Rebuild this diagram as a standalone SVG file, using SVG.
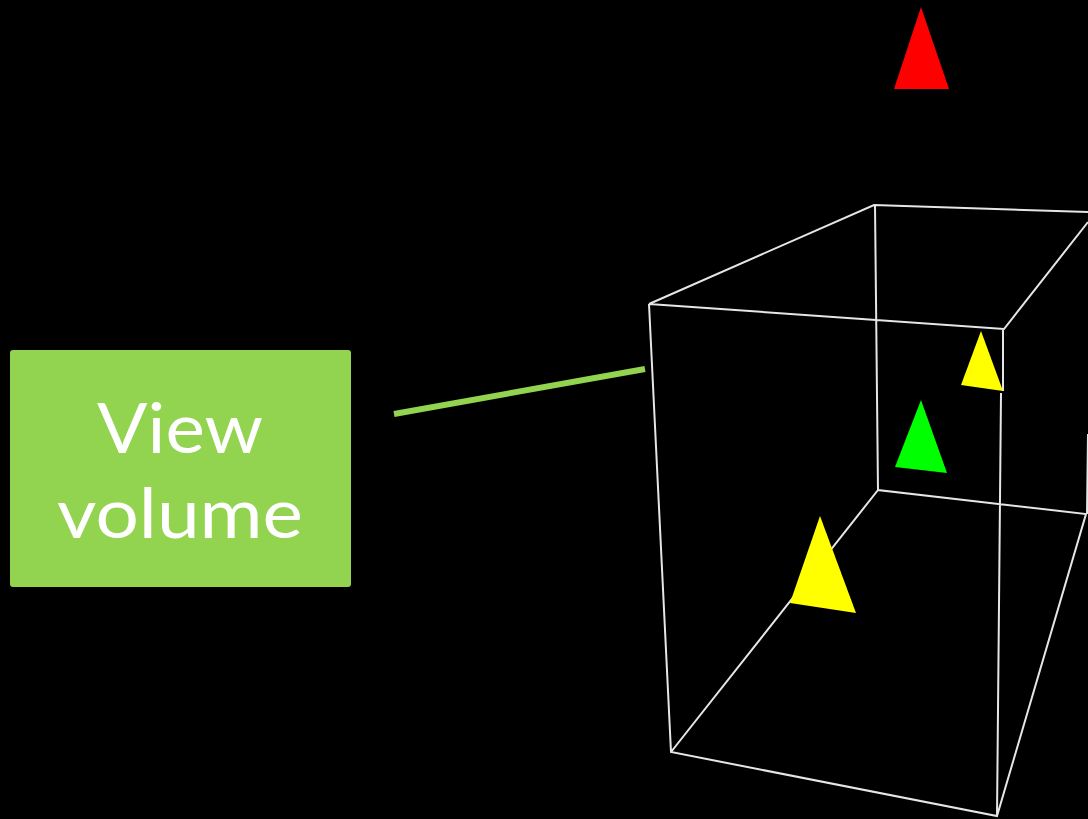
<svg xmlns="http://www.w3.org/2000/svg" width="1088" height="819" viewBox="0 0 1088 819">
<style>
.w{fill:none;stroke:#e6e6e6;stroke-width:2}
.t{font-family:Lato,"Noto Sans",sans-serif;font-size:70px;fill:#fff;text-anchor:middle}
.y{fill:#ffff00}
</style>
<rect width="1088" height="819" fill="#000"/>
<g id="wireframe">
<path class="w" d="M649 304L874 205L1088 212M649 304L1004 329L1088 222M649 304L671 752L997 816L1086 514L878 490L875 205M671 752L878 490M1003 329L1003 391M1001 393L997 816M1088 434L1087 514"/>
</g>
<g id="markers">
<polygon points="921,7 894,89 949,89" fill="#ff0000"/>
<polygon class="y" points="981,331 961,385 1003,391"/>
<polygon points="921,400 895,467 947,473" fill="#00ff00"/>
<polygon class="y" points="820,516 790,603 856,613"/>
</g>
<g id="connectors">
<line x1="394" y1="414" x2="645" y2="369" stroke="#92d350" stroke-width="6"/>
</g>
<g id="label">
<rect x="10" y="350" width="341" height="237" rx="3" fill="#92d350"/>
<text class="t" x="180" y="453" textLength="166" lengthAdjust="spacingAndGlyphs">View</text>
<text class="t" x="180" y="538" textLength="246" lengthAdjust="spacingAndGlyphs">volume</text>
</g>
</svg>
